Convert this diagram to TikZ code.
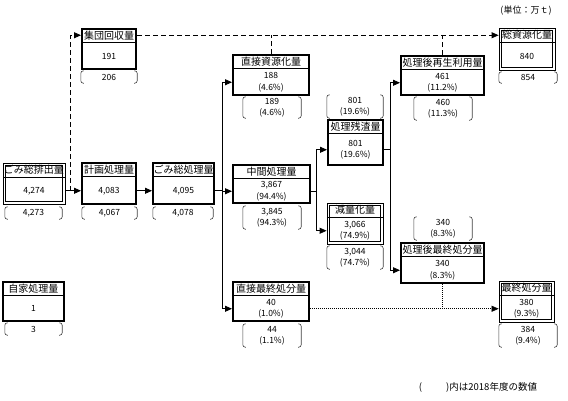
\documentclass[tikz,border=0pt]{standalone}
\usepackage{fontspec}
\setmainfont{Noto Sans CJK JP}
\usetikzlibrary{arrows.meta,calc}

% box with a header band and a value part
\newcommand{\flowbox}[7]{%
  \node[#2, minimum width=#4, minimum height=#5] (#1) at (#3) {};
  \node[headtext, minimum width=#4, anchor=north] (#1-h) at (#1.north) {#6};
  \draw[headsep] (#1-h.south west) -- (#1-h.south east);
  \node[bodytext] (#1-v) at ($(#1-h.south)!0.5!(#1.south)$) {#7};}
% previous year value between brackets
\newcommand{\prevnode}[5]{%
  \node[prevtext, minimum width=#3, minimum height=#4] (#1) at (#2) {#5};
  \draw[parenline] ([xshift=3pt]#1.north west) -- (#1.north west) -- (#1.south west) -- ([xshift=3pt]#1.south west);
  \draw[parenline] ([xshift=-3pt]#1.north east) -- (#1.north east) -- (#1.south east) -- ([xshift=-3pt]#1.south east);}

\begin{document}
\begin{tikzpicture}[x=1pt,y=-1pt,
    thickbox/.style={draw,line width=2pt,fill=white},
    dblbox/.style={draw,line width=0.8pt,fill=white,
        path picture={\draw[line width=0.8pt]
            ([xshift=2.2pt,yshift=-2.2pt]path picture bounding box.north west) rectangle
            ([xshift=-2.2pt,yshift=2.2pt]path picture bounding box.south east);}},
    headtext/.style={inner sep=0,outer sep=0,minimum height=14.5pt,font=\fontsize{10}{12}\selectfont},
    headsep/.style={line width=1.2pt},
    bodytext/.style={inner sep=0,align=center,font=\fontsize{8.5}{11.5}\selectfont},
    prevtext/.style={inner sep=0,align=center,font=\fontsize{8.5}{11}\selectfont},
    parenline/.style={line width=0.6pt,rounded corners=2.5pt,black!75},
    conn/.style={line width=0.8pt},
    arr/.style={-{Triangle[length=7pt,width=6pt]}},
    dashline/.style={line width=0.8pt,dash pattern=on 5pt off 3pt},
    dotline/.style={line width=0.6pt,dash pattern=on 1pt off 1pt}]
    \useasboundingbox (0,0) rectangle (568,400);

    \flowbox{haishutsu}{dblbox}{34,183.5}{62pt}{41pt}{ごみ総排出量}{4,274}
    \flowbox{keikaku}{thickbox}{109,183.5}{54pt}{41pt}{計画処理量}{4,083}
    \flowbox{soshori}{thickbox}{183.5,183.5}{61pt}{41pt}{ごみ総処理量}{4,095}
    \flowbox{shudan}{thickbox}{109,49}{54pt}{40pt}{集団回収量}{191}
    \flowbox{chokushigen}{thickbox}{271,75}{76pt}{40pt}{直接資源化量}{188\\(4.6\%)}
    \flowbox{chukan}{thickbox}{271.5,184}{77pt}{38pt}{中間処理量}{3,867\\(94.4\%)}
    \flowbox{zansa}{thickbox}{355.5,142.5}{55pt}{45pt}{処理残渣量}{801\\(19.6\%)}
    \flowbox{genryo}{dblbox}{355,223.5}{56pt}{41pt}{減量化量}{3,066\\(74.9\%)}
    \flowbox{saisei}{thickbox}{442.5,75.5}{83pt}{39pt}{処理後再生利用量}{461\\(11.2\%)}
    \flowbox{soshigen}{dblbox}{527,49}{56pt}{42pt}{総資源化量}{840}
    \flowbox{gofinal}{thickbox}{442.5,263}{83pt}{40pt}{処理後最終処分量}{340\\(8.3\%)}
    \flowbox{chokusai}{thickbox}{271,301.5}{76pt}{39pt}{直接最終処分量}{40\\(1.0\%)}
    \flowbox{saishu}{dblbox}{526.5,301.5}{55pt}{41pt}{最終処分量}{380\\(9.3\%)}
    \flowbox{jika}{thickbox}{33.5,301.5}{61pt}{39pt}{自家処理量}{1}

    \prevnode{haishutsu-p}{33.5,213}{57pt}{12pt}{4,273}
    \prevnode{keikaku-p}{109.5,213}{55pt}{12pt}{4,067}
    \prevnode{soshori-p}{183,213}{60pt}{12pt}{4,078}
    \prevnode{shudan-p}{109,77}{56pt}{12pt}{206}
    \prevnode{chokushigen-p}{272,107.5}{58pt}{21pt}{189\\(4.6\%)}
    \prevnode{chukan-p}{272,217.5}{58pt}{23pt}{3,845\\(94.3\%)}
    \prevnode{zansa-p}{355,106.5}{56pt}{23pt}{801\\(19.6\%)}
    \prevnode{genryo-p}{355,257.5}{56pt}{23pt}{3,044\\(74.7\%)}
    \prevnode{saisei-p}{443,108.5}{58pt}{23pt}{460\\(11.3\%)}
    \prevnode{soshigen-p}{528,77.5}{58pt}{11pt}{854}
    \prevnode{gofinal-p}{443,228.5}{58pt}{23pt}{340\\(8.3\%)}
    \prevnode{chokusai-p}{272,335.5}{58pt}{23pt}{44\\(1.1\%)}
    \prevnode{saishu-p}{528,335.5}{58pt}{23pt}{384\\(9.4\%)}
    \prevnode{jika-p}{33.5,329}{57pt}{12pt}{3}

    \coordinate (split) at (70,191);
    \coordinate (trunk) at (222,190);
    \coordinate (midfork) at (316,187);
    \coordinate (resfork) at (390,145);

    % main flow
    \draw[conn,arr] (haishutsu.east |- haishutsu-v) -- (keikaku.west |- haishutsu-v);
    \draw[conn,arr] (keikaku.east |- keikaku-v) -- (soshori.west |- keikaku-v);
    \draw[conn] (soshori.east |- soshori-v) -- (trunk |- soshori-v);
    \draw[conn] (trunk |- chokushigen-v) -- (trunk |- chokusai-v);
    \foreach \b in {chokushigen,chukan,chokusai}
        {\draw[conn,arr] (trunk |- \b-v) -- (\b.west |- \b-v);
        }
    \draw[conn] (chukan.east |- chukan-v) -- (midfork |- chukan-v);
    \draw[conn] (midfork |- zansa-v) -- (midfork |- genryo-v);
    \foreach \b in {zansa,genryo}
        {\draw[conn,arr] (midfork |- \b-v) -- (\b.west |- \b-v);
        }
    \draw[conn] (zansa.east |- zansa-v) -- (resfork |- zansa-v);
    \draw[conn] (resfork |- saisei-v) -- (resfork |- gofinal-v);
    \foreach \b in {saisei,gofinal}
        {\draw[conn,arr] (resfork |- \b-v) -- (\b.west |- \b-v);
        }

    % resource flow
    \draw[dashline,arr] (split |- haishutsu-v) |- (shudan.west |- shudan-h);
    \draw[dashline,arr] (shudan.east |- shudan-h) -- (soshigen.west |- shudan-h);
    \draw[dashline] (chokushigen.north) -- (chokushigen.north |- shudan-h);
    \draw[dashline] (saisei.north) -- (saisei.north |- shudan-h);

    % final disposal flow
    \draw[dotline,arr] (chokusai.east |- chokusai-v) -- (saishu.west |- chokusai-v);
    \draw[dotline] (gofinal.south) -- (gofinal.south |- chokusai-v);

    \node[font=\fontsize{9}{11}\selectfont] (unit) at (526,11) {(単位：万ｔ)};
    \node[font=\fontsize{9.5}{11}\selectfont] (note) at (478,387) {(\hspace{24pt})内は2018年度の数値};
\end{tikzpicture}
\end{document}
